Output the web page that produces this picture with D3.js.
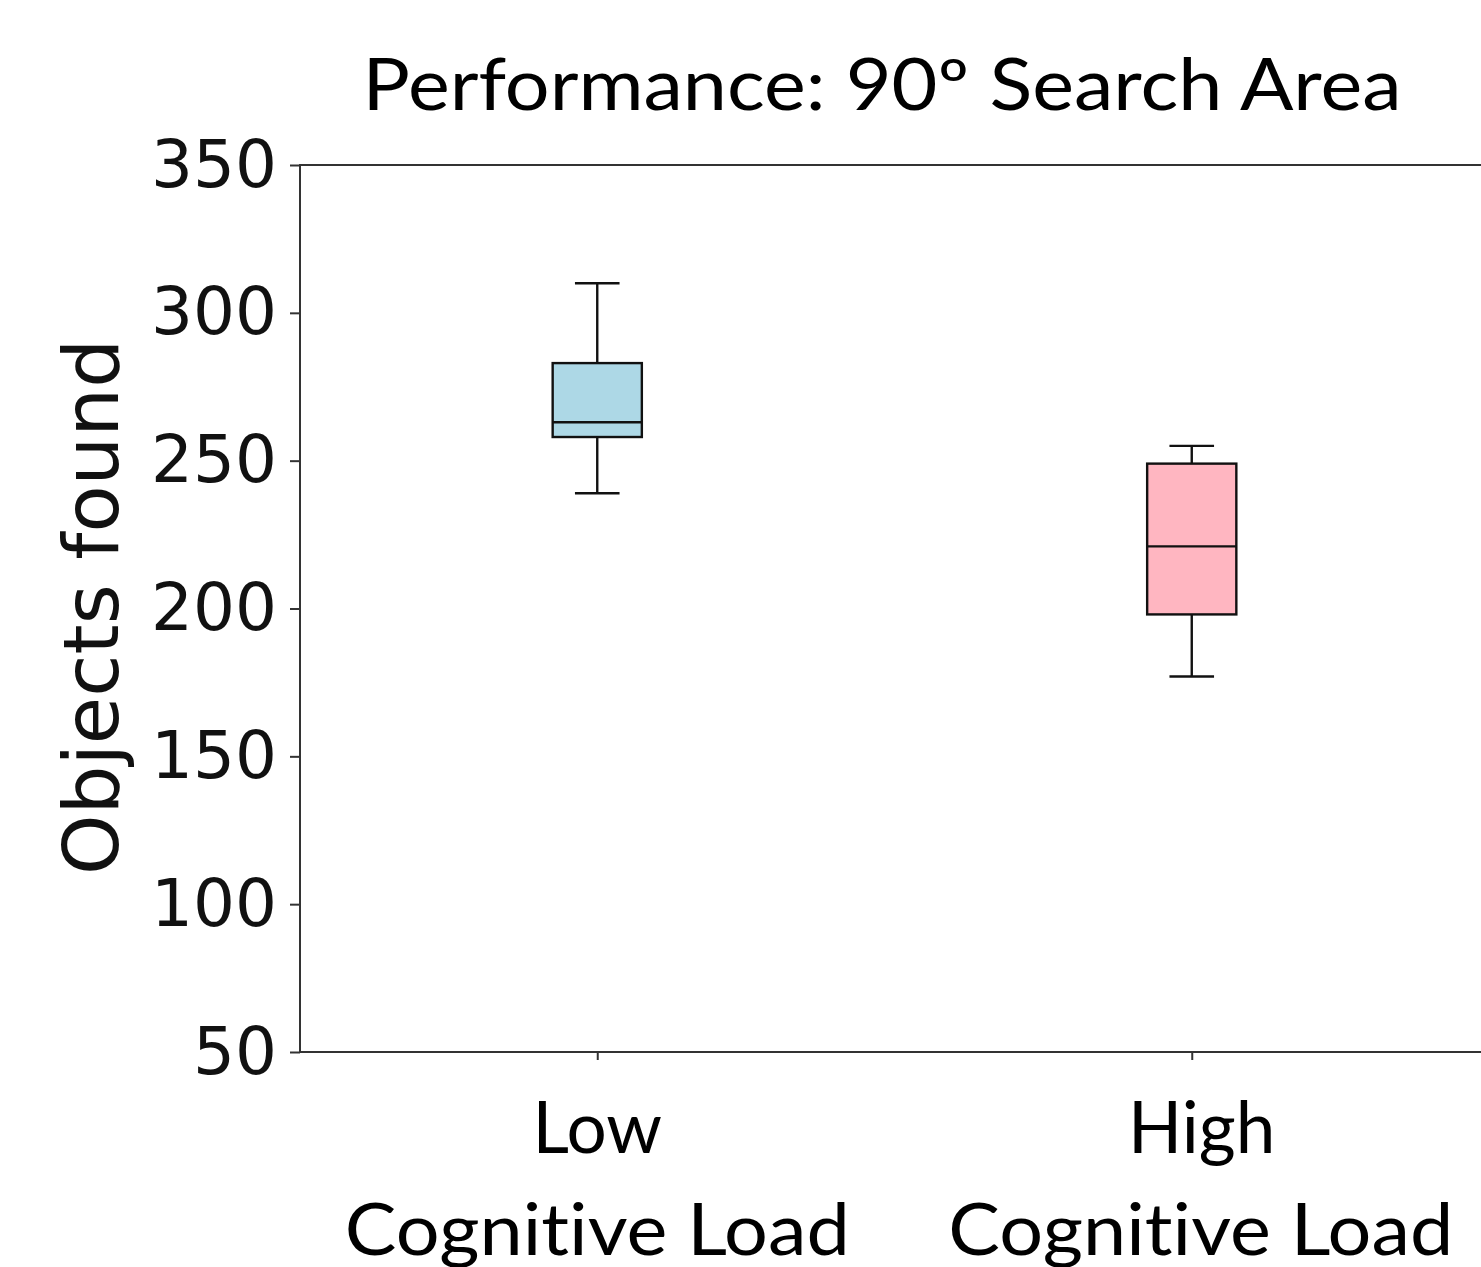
<!DOCTYPE html>
<html>
<head>
<meta charset="utf-8">
<script src="https://cdn.jsdelivr.net/npm/d3@7"></script>
<style>
  body { margin: 0; background: #fff; }
  svg { display: block; }
  text { font-variant-ligatures: none; }
</style>
</head>
<body>
<svg id="svg" width="1481" height="1267"></svg>
<script>
// box stats
var categories = ["Low", "High"];
var catLine2 = ["Cognitive Load", "Cognitive Load"];
var whiskerLow = [239, 177];
var q1 = [258, 198];
var median = [263, 221];
var q3 = [283, 249];
var whiskerHigh = [310, 255];
var boxColors = ["#add8e6", "#ffb6c1"];
var yTicks = [50, 100, 150, 200, 250, 300, 350];

var svg = d3.select("#svg");

var plotLeft = 300, plotRight = 1489, plotTop = 165, plotBottom = 1052;

var x = d3.scalePoint().domain(categories).range([plotLeft, plotRight]).padding(0.5);
var y = d3.scaleLinear().domain([50, 350]).range([plotBottom, plotTop]);
var boxW = x.step() * 0.15;

// y axis
var yAxis = svg.append("g")
  .attr("transform", "translate(" + plotLeft + ",0)")
  .call(d3.axisLeft(y).tickValues(yTicks).tickSize(10).tickPadding(13));
yAxis.select(".domain").remove();
yAxis.selectAll("line").attr("stroke", "#333").attr("stroke-width", 2);
yAxis.selectAll("text")
  .attr("font-family", "DejaVu Sans")
  .attr("font-size", 66)
  .attr("fill", "#111");

// x axis (ticks only, labels drawn separately)
var xAxis = svg.append("g")
  .attr("transform", "translate(0," + plotBottom + ")")
  .call(d3.axisBottom(x).tickSize(8).tickFormat(""));
xAxis.select(".domain").remove();
xAxis.selectAll("line").attr("stroke", "#333").attr("stroke-width", 2);

// spines
svg.append("rect")
  .attr("x", plotLeft).attr("y", plotTop)
  .attr("width", plotRight - plotLeft).attr("height", plotBottom - plotTop)
  .attr("fill", "none")
  .attr("stroke", "#333")
  .attr("stroke-width", 2);

// boxes
var g = svg.selectAll(".box").data(categories).enter().append("g").attr("class", "box");

function vline(a, b) {
  g.append("line")
    .attr("x1", function(d) { return x(d); })
    .attr("x2", function(d) { return x(d); })
    .attr("y1", function(d, i) { return y(a[i]); })
    .attr("y2", function(d, i) { return y(b[i]); })
    .attr("stroke", "#111").attr("stroke-width", 2.4);
}
function hline(v, half) {
  g.append("line")
    .attr("x1", function(d) { return x(d) - half; })
    .attr("x2", function(d) { return x(d) + half; })
    .attr("y1", function(d, i) { return y(v[i]); })
    .attr("y2", function(d, i) { return y(v[i]); })
    .attr("stroke", "#111").attr("stroke-width", 2.4);
}

vline(whiskerHigh, q3);
vline(q1, whiskerLow);
hline(whiskerHigh, boxW / 4);
hline(whiskerLow, boxW / 4);
g.append("rect")
  .attr("x", function(d) { return x(d) - boxW / 2; })
  .attr("y", function(d, i) { return y(q3[i]); })
  .attr("width", boxW)
  .attr("height", function(d, i) { return y(q1[i]) - y(q3[i]); })
  .attr("fill", function(d, i) { return boxColors[i]; })
  .attr("stroke", "#111").attr("stroke-width", 2.4);
hline(median, boxW / 2);

// category labels (the second one sits a little right of its tick)
var lab = svg.selectAll(".lab").data(categories).enter().append("text")
  .attr("font-family", "Lato, 'Open Sans', sans-serif")
  .attr("font-size", 71)
  .attr("text-anchor", "middle")
  .attr("fill", "#000");
lab.append("tspan")
  .attr("x", function(d, i) { return x(d) + (i ? 10 : 0); })
  .attr("y", 1153)
  .text(function(d) { return d; });
lab.append("tspan")
  .attr("x", function(d, i) { return x(d) + (i ? 9 : 0); })
  .attr("y", 1255)
  .attr("textLength", 505)
  .attr("lengthAdjust", "spacingAndGlyphs")
  .text(function(d, i) { return catLine2[i]; });

// y label
svg.append("text")
  .attr("transform", "translate(118,607) rotate(-90)")
  .attr("text-anchor", "middle")
  .attr("font-family", "DejaVu Sans")
  .attr("font-size", 77)
  .attr("fill", "#111")
  .text("Objects found");

// title
svg.append("text")
  .attr("x", 882)
  .attr("y", 110)
  .attr("text-anchor", "middle")
  .attr("font-family", "Lato, 'Open Sans', sans-serif")
  .attr("font-size", 71)
  .attr("textLength", 1039)
  .attr("lengthAdjust", "spacingAndGlyphs")
  .text("Performance: 90º Search Area");
</script>
</body>
</html>
